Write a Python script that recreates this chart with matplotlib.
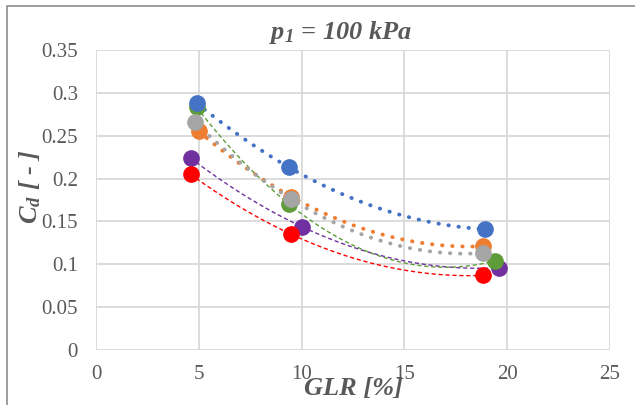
import numpy as np
import matplotlib.pyplot as plt
from matplotlib.lines import Line2D

# series data
names = ['purple', 'red', 'green', 'blue', 'orange', 'gray']
glr = {
    'blue':   [4.9, 9.4, 18.9],
    'orange': [5.0, 9.5, 18.8],
    'gray':   [4.8, 9.5, 18.8],
    'green':  [4.9, 9.4, 19.4],
    'purple': [4.6, 10.0, 19.6],
    'red':    [4.6, 9.5, 18.8],
}
cd = {
    'blue':   [0.288, 0.213, 0.141],
    'orange': [0.255, 0.179, 0.121],
    'gray':   [0.266, 0.176, 0.113],
    'green':  [0.283, 0.170, 0.104],
    'purple': [0.224, 0.144, 0.096],
    'red':    [0.205, 0.135, 0.087],
}
colors = {
    'blue': '#4472C4', 'orange': '#ED7D31', 'gray': '#A5A5A5',
    'green': '#5E9C3A', 'purple': '#7030A0', 'red': '#FF0000',
}
xticks = [0, 5, 10, 15, 20, 25]
yticks = [0, 0.05, 0.1, 0.15, 0.2, 0.25, 0.3, 0.35]
ytick_labels = ['0', '0.05', '0.1', '0.15', '0.2', '0.25', '0.3', '0.35']

plt.rcParams['font.family'] = ['Liberation Serif', 'DejaVu Serif']
plt.rcParams['mathtext.fontset'] = 'custom'
plt.rcParams['mathtext.rm'] = 'Liberation Serif:bold:italic'
plt.rcParams['mathtext.it'] = 'Liberation Serif:italic:bold'
plt.rcParams['mathtext.bf'] = 'Liberation Serif:bold'

fig = plt.figure(figsize=(6.35, 4.05), dpi=100)
ax = fig.add_axes([96/635, 1-350/405, (610-96)/635, 300/405])

# trendlines (2nd order polynomial, as in the spreadsheet)
for n in names:
    x = np.array(glr[n])
    y = np.array(cd[n])
    c = np.polyfit(x, y, 2)
    xs = np.linspace(x.min(), x.max(), 100)
    if n in ('blue', 'orange', 'gray'):
        ax.plot(xs, np.polyval(c, xs), color=colors[n], lw=2.8,
                linestyle=(0, (0.1, 2.5)), dash_capstyle='round', zorder=2)
    else:
        ax.plot(xs, np.polyval(c, xs), color=colors[n], lw=1.0,
                linestyle=(0, (3, 2)), zorder=2)

for n in names:
    ax.plot(glr[n], cd[n], 'o', color=colors[n], ms=11, zorder=3)

ax.set_xlim(0, 25)
ax.set_ylim(0, 0.35)
ax.set_xticks(xticks)
ax.set_yticks(yticks)
ax.set_yticklabels(ytick_labels)
ax.grid(True, color='#D9D9D9', lw=1.3)
ax.set_axisbelow(True)
for s in ax.spines.values():
    s.set_visible(False)
ax.tick_params(length=0, labelsize=15, colors='#595959')
ax.tick_params(axis='x', pad=11)
ax.tick_params(axis='y', pad=13)

fig.text(341/635, 1-33/405, r'$p_{1}$ = 100 kPa', ha='center', va='center',
         fontsize=19, fontweight='bold', fontstyle='italic', color='#595959')
fig.text(353/635, 1-389/405, 'GLR [%]', ha='center', va='center',
         fontsize=19, fontweight='bold', fontstyle='italic', color='#595959')
fig.text(30/635, 1-187/405, r'$C_d$ [ - ]', ha='center', va='center', rotation=90,
         fontsize=19, fontweight='bold', fontstyle='italic', color='#595959')

# outer chart frame (cropped on right and bottom)
fig.add_artist(Line2D([7/635, 7/635, 1.0], [0.0, 1-6/405, 1-6/405],
                      transform=fig.transFigure, color='#8C8C8C', lw=1.2))

fig.savefig('out.png', dpi=100)
